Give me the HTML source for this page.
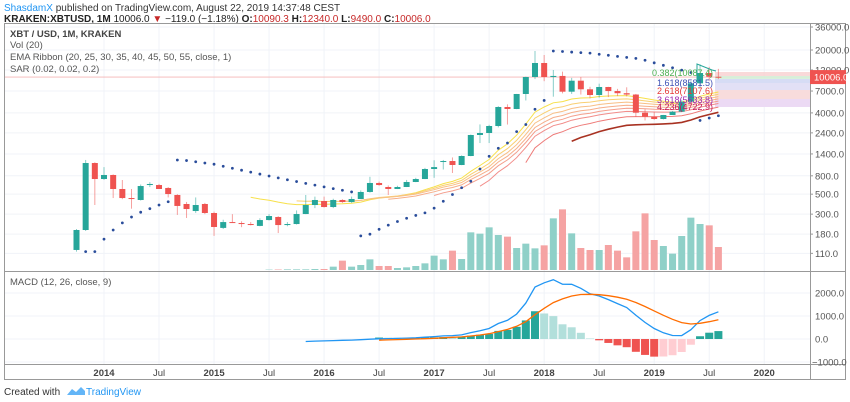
<!DOCTYPE html>
<html><head><meta charset="utf-8"><style>
html,body{margin:0;padding:0;background:#fff;}
svg{display:block;font-family:"Liberation Sans",sans-serif;}
</style></head><body>
<svg id="chart" width="850" height="402" viewBox="0 0 850 402" xmlns="http://www.w3.org/2000/svg">
<g>
<text x="4" y="11" font-size="10" fill="#333"><tspan fill="#2196f3">ShasdamX</tspan> published on TradingView.com, August 22, 2019 14:37:48 CEST</text>
<text x="4" y="22" font-size="10" fill="#222"><tspan font-weight="bold">KRAKEN:XBTUSD, 1M</tspan> 10006.0 <tspan fill="#c62828">▼</tspan> −119.0 (−1.18%) <tspan font-weight="bold">O:</tspan><tspan fill="#c62828">10090.3</tspan> <tspan font-weight="bold">H:</tspan><tspan fill="#c62828">12340.0</tspan> <tspan font-weight="bold">L:</tspan><tspan fill="#c62828">9490.0</tspan> <tspan font-weight="bold">C:</tspan><tspan fill="#c62828">10006.0</tspan></text>
</g>
<g id="grid"></g>
<g id="fib">
<rect x="715" y="72" width="95" height="4" fill="#f8d0d0" opacity="0.8"/>
<rect x="715" y="76" width="95" height="3" fill="#d4efd8" opacity="0.9"/>
<rect x="715" y="79" width="95" height="4" fill="#d6dcf5"/>
<rect x="715" y="83" width="95" height="7" fill="#e2e0f6"/>
<rect x="715" y="90" width="95" height="9" fill="#f8dcdc"/>
<rect x="715" y="99" width="95" height="8" fill="#ecdaf4"/>
</g>
<g id="vol"></g>
<g id="ema"></g>
<g id="sar"></g>
<g id="candles"></g>
<g id="macd"></g>
<g font-size="9">
<text x="713" y="76" text-anchor="end" fill="#4caf50">0.382(10087.4)</text>
<text x="713" y="86" text-anchor="end" fill="#3f51b5">1.618(8581.5)</text>
<text x="713" y="94" text-anchor="end" fill="#e53935">2.618(7107.6)</text>
<text x="713" y="103" text-anchor="end" fill="#9c27b0">3.618(5633.8)</text>
<text x="713" y="110" text-anchor="end" fill="#c2185b">4.236(4722.9)</text>
<polyline points="697,82 697,64 712,70 716,71" fill="none" stroke="#26a69a" stroke-width="1"/>
</g>
<g id="frame">
<rect x="4.5" y="23.5" width="841" height="356" fill="none" stroke="#999"/>
<line x1="4" y1="271.5" x2="846" y2="271.5" stroke="#999"/>
<line x1="4" y1="364.5" x2="846" y2="364.5" stroke="#999"/>
<line x1="810.5" y1="23" x2="810.5" y2="380" stroke="#999"/>
</g>
<g id="axes"></g>
<g font-size="9.5" fill="#555">
<text x="10" y="37" font-weight="bold" fill="#444">XBT / USD, 1M, KRAKEN</text>
<text x="10" y="48">Vol (20)</text>
<text x="10" y="60">EMA Ribbon (20, 25, 30, 35, 40, 45, 50, 55, close, 1)</text>
<text x="10" y="72">SAR (0.02, 0.02, 0.2)</text>
<text x="10" y="285">MACD (12, 26, close, 9)</text>
</g>
<g>
<text x="4" y="395" font-size="10" fill="#333">Created with</text>
<path d="M67 395 l5 -6 l4 3 l5 -5 l4 4 v4 z" fill="#2196f3" opacity="0.7"/>
<text x="86" y="395" font-size="10" fill="#2196f3">TradingView</text>
</g>
</svg>
<script>
// Monthly bars, Oct 2013 .. Aug 2019
const opens  = [120,200,1110,737,817,571,453,431,632,632,586,490,389,325,389,309,211,245,239,233,222,258,279,227,233,301,379,420,360,431,409,442,529,666,601,571,601,683,737,952,1168,1168,1055,1328,2273,2392,2861,4653,4420,6490,10023,14344,10023,10300,6882,9120,7317,6324,7762,7000,6620,6400,4021,3630,3422,3792,4125,5329,8531,11103,10090];
const highs  = [205,1200,1130,1000,830,719,571,640,680,650,600,500,410,460,400,320,260,300,250,245,270,300,285,245,330,490,470,470,445,440,470,550,780,690,625,620,720,760,980,1190,1200,1280,1350,2300,2980,2950,4750,4980,6500,10100,19500,17600,11990,11500,9800,10000,7800,8450,7800,7400,7700,6500,4400,4100,3800,4200,5600,9000,13870,13000,12340];
const lows   = [115,195,379,720,453,440,345,425,600,590,460,294,272,310,300,172,205,240,215,225,220,255,185,220,230,300,350,355,350,400,400,440,520,620,490,570,600,680,735,760,940,860,1050,1320,1850,1850,2760,2970,4400,5500,9500,9000,6057,6600,6500,6400,5800,5900,6000,6150,6100,3600,3300,3350,3380,3800,4100,5300,7500,9100,9490];
const closes = [200,1110,737,817,571,453,442,616,649,571,502,370,342,379,309,216,245,239,236,228,258,286,227,233,301,379,431,360,431,409,442,529,666,632,571,601,683,737,952,1000,1168,1055,1328,2273,2392,2861,4653,4420,6490,10023,14344,10023,10300,6882,9120,7317,6324,7762,7000,6620,6400,4021,3630,3422,3792,4125,5329,8531,11103,10090,10006];
const volumes = [0,0,0,0,0,0,0,0,0,0,0,0,0,0,0,0,0,0,0,0,0,0.8,1,1.3,1.3,1.3,2,2,6.7,18.7,6.7,10,21.3,8,8,4,5.3,8,13.3,28.7,21.3,38.7,22,75.3,72.7,85.3,70,66.7,44,52.7,43.3,49.3,103.3,121.3,73.3,44,40,40,50,38.7,25.3,77.3,113.3,60,48,32.7,68,104.7,92,89.3,46];
const priceTicks = [36000,20000,12000,7000,4000,2400,1400,800,500,300,180,110];
const macdTicks = [2000,1000,0,-1000];
const timeLabels = ["2014","Jul","2015","Jul","2016","Jul","2017","Jul","2018","Jul","2019","Jul","2020"];
const timeLabelMonths = [3,9,15,21,27,33,39,45,51,57,63,69,75];
const emaLengths = [20,25,30,35,40,45,50,55];

const NS="http://www.w3.org/2000/svg";
function mk(tag,attrs,parent){const e=document.createElementNS(NS,tag);for(const k in attrs)e.setAttribute(k,attrs[k]);parent.appendChild(e);return e;}
const xS=i=>104+(i-3)*9.17;
const yP=p=>50+(4.301-Math.log10(p))*90;
const yV=v=>270-v*0.5;
const yM=v=>339-v*0.023;
const UP="#26a69a",DN="#ef5350";

const grid=document.getElementById('grid');
timeLabelMonths.forEach(m=>{const l=mk('line',{x1:xS(m),x2:xS(m),y1:24,y2:364,stroke:"#f0f3f8"},grid);});
priceTicks.forEach(p=>{const l=mk('line',{x1:5,x2:810,y1:yP(p),y2:yP(p),stroke:"#f0f3f8"},grid);});
macdTicks.forEach(v=>{const l=mk('line',{x1:5,x2:810,y1:yM(v),y2:yM(v),stroke:"#f0f3f8"},grid);});

// price line
const last=closes[closes.length-1];
const pl=mk('line',{x1:5,x2:810,y1:yP(last),y2:yP(last),stroke:"#f4b4b4","stroke-width":0.8},grid);



// volume
const vg=document.getElementById('vol');
volumes.forEach((v,i)=>{if(v<=0)return;const up=closes[i]>=opens[i];
const r=mk('rect',{x:xS(i)-3.5,y:yV(v),width:7,height:270-yV(v),fill:up?"#8fd0c8":"#f5a3a3"},vg);

});

// EMA
function ema(src,n,start){const out=new Array(src.length).fill(null);if(src.length<n)return out;let s=0;for(let i=start;i<start+n;i++)s+=src[i];let e=s/n;out[start+n-1]=e;const a=2/(n+1);for(let i=start+n;i<src.length;i++){e=a*src[i]+(1-a)*e;out[i]=e;}return out;}
const emaColors=["#f7e04a","#f9cf72","#f8bf86","#f6ae8a","#f49e8c","#f28d8a","#ee7a78","#a83222"];
const eg=document.getElementById('ema');
emaLengths.forEach((n,k)=>{const e=ema(closes,n,0);let d="";e.forEach((v,i)=>{if(v!=null)d+=(d?"L":"M")+xS(i).toFixed(1)+","+yP(v).toFixed(1);});
const p=mk('path',{d:d,fill:"none",stroke:emaColors[k],"stroke-width":k==7?1.6:1},eg);

});

// SAR
const sg=document.getElementById('sar');
(function(){let up=true,af=0.02,ep=highs[0],sar=lows[0];
for(let i=1;i<closes.length;i++){sar=sar+af*(ep-sar);
if(up){sar=Math.min(sar,lows[i-1],i>1?lows[i-2]:lows[i-1]);
 if(lows[i]<sar){up=false;sar=ep;ep=lows[i];af=0.02;}else if(highs[i]>ep){ep=highs[i];af=Math.min(af+0.02,0.2);}}
else{sar=Math.max(sar,highs[i-1],i>1?highs[i-2]:highs[i-1]);
 if(highs[i]>sar){up=true;sar=ep;ep=highs[i];af=0.02;}else if(lows[i]<ep){ep=lows[i];af=Math.min(af+0.02,0.2);}}
const c=mk('circle',{cx:xS(i),cy:yP(sar),r:1.4,fill:"#2a4d9b"},sg);

}})();

// candles
const cg=document.getElementById('candles');
closes.forEach((c,i)=>{const o=opens[i],up=c>=o,col=up?UP:DN;const x=xS(i);
const w=mk('line',{x1:x,x2:x,y1:yP(highs[i]),y2:yP(lows[i]),stroke:col,"stroke-opacity":0.55,"stroke-width":1},cg);


const t=yP(Math.max(o,c)),b=yP(Math.min(o,c));
const r=mk('rect',{x:x-3,y:t,width:6,height:Math.max(1,b-t),fill:col},cg);

});

// MACD
const mg=document.getElementById('macd');
const e12=ema(closes,12,0),e26=ema(closes,26,0);
const macd=closes.map((_,i)=>e26[i]==null?null:e12[i]-e26[i]);
const fm=macd.findIndex(v=>v!=null);
const sigRaw=ema(macd.slice(fm),9,0);
const signal=macd.map((_,i)=>i<fm?null:sigRaw[i-fm]);
signal.forEach((s,i)=>{if(s==null)return;const h=macd[i]-s,prev=signal[i-1]!=null?macd[i-1]-signal[i-1]:h;
const col=h>=0?(h>=prev?"#26a69a":"#b2dfdb"):(h<prev?"#ef5350":"#ffcdd2");
const y0=yM(0),y1=yM(h);
const r=mk('rect',{x:xS(i)-4,y:Math.min(y0,y1),width:8,height:Math.max(0.5,Math.abs(y1-y0)),fill:col},mg);

});
function line(arr,col,name){let d="";arr.forEach((v,i)=>{if(v!=null)d+=(d?"L":"M")+xS(i).toFixed(1)+","+yM(v).toFixed(1);});
const p=mk('path',{d:d,fill:"none",stroke:col,"stroke-width":1.3},mg);

}
line(macd,"#2196f3","macd-line");
line(signal,"#ff6d00","signal-line");

// axes
const ag=document.getElementById('axes');
priceTicks.forEach(p=>{const t=mk('text',{x:815,y:yP(p)+3.5,"font-size":9.5,fill:"#555"},ag);t.textContent=p.toFixed(1);


mk('line',{x1:810,x2:813,y1:yP(p),y2:yP(p),stroke:"#999"},ag);});
macdTicks.forEach(v=>{const t=mk('text',{x:v<0?812:815,y:yM(v)+3.5,"font-size":9.5,fill:"#555"},ag);t.textContent=(v<0?"\u2212":"")+Math.abs(v).toFixed(1);

});
timeLabels.forEach((s,k)=>{const t=mk('text',{x:xS(timeLabelMonths[k]),y:376,"font-size":9.5,"text-anchor":"middle",fill:"#444","font-weight":s==="Jul"?"normal":"bold"},ag);t.textContent=s;

});
const lb=mk('rect',{x:810,y:yP(last)-7,width:36,height:14,fill:"#ef5350"},ag);


const lt=mk('text',{x:814,y:yP(last)+3.5,"font-size":9.5,fill:"#fff"},ag);lt.textContent=last.toFixed(1);


</script>
</body></html>
